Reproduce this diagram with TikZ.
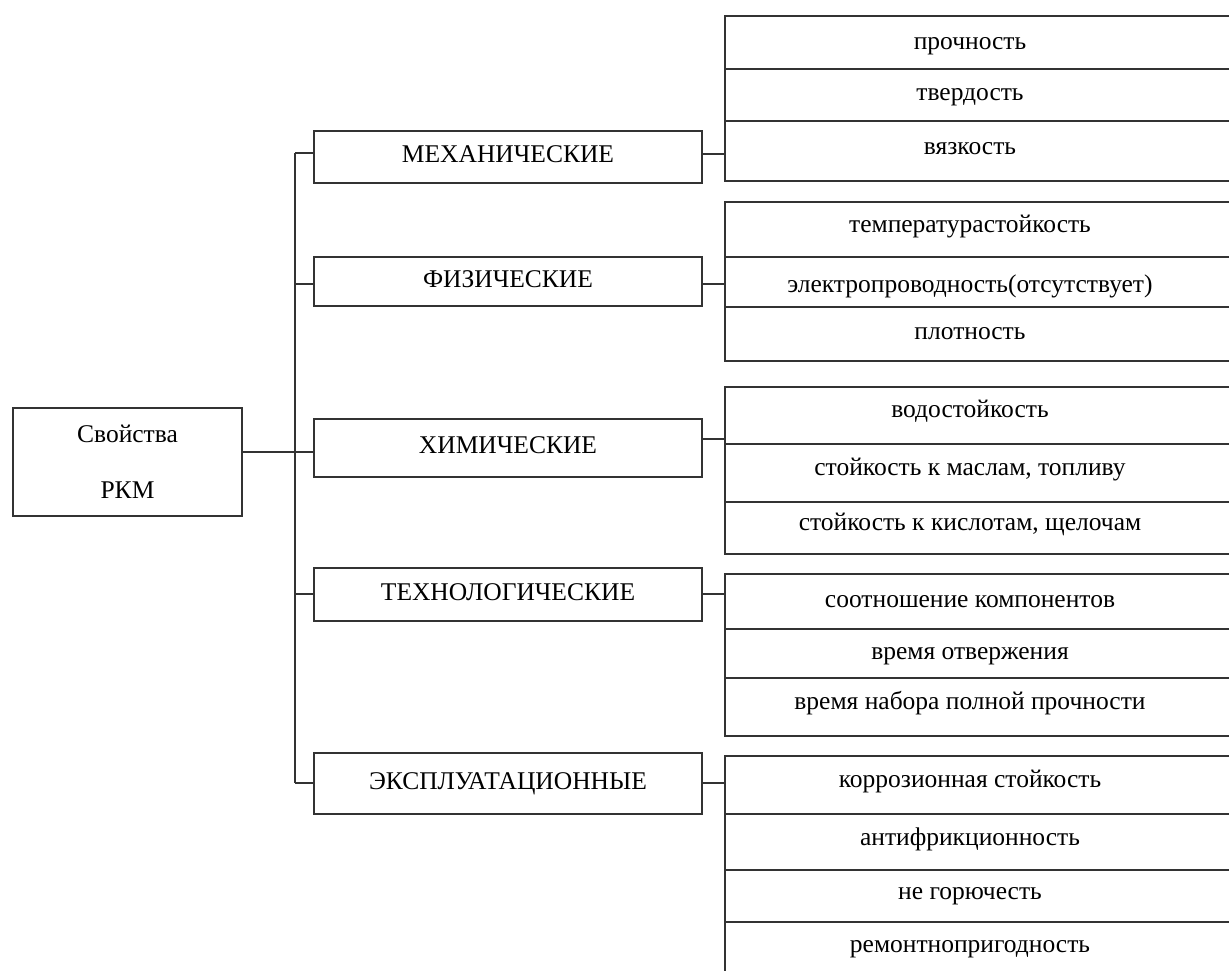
\documentclass[tikz,border=0pt]{standalone}
\usepackage{fontspec}
\setmainfont{Liberation Serif}
\usepackage{tikz}
\usetikzlibrary{positioning}

\tikzset{
    line/.style={draw=black!80, line width=1.4pt},
    rootbox/.style={line, minimum width=229pt, minimum height=108pt, inner sep=0pt, align=center},
    catbox/.style={line, minimum width=388pt, inner sep=0pt, text height=18pt, text depth=6.5pt},
    prop/.style={inner sep=0pt, text height=18pt, text depth=2.5pt}
}

\begin{document}
\begin{tikzpicture}[x=1pt,y=-1pt,font=\fontsize{25.5}{28}\selectfont]
    \useasboundingbox (0,0) rectangle (1229,971);
    \clip (0,0) rectangle (1229,971);

    % root
    \node[rootbox] (root) at (127.5,462) {Свойства\\[28pt]РКМ};

    % categories
    \node[catbox, minimum height=52pt] (mech) at (508,157) {МЕХАНИЧЕСКИЕ};
    \node[catbox, minimum height=49pt] (phys) at (508,281.5) {ФИЗИЧЕСКИЕ};
    \node[catbox, minimum height=58pt] (chem) at (508,448) {ХИМИЧЕСКИЕ};
    \node[catbox, minimum height=53pt] (tech) at (508,594.5) {ТЕХНОЛОГИЧЕСКИЕ};
    \node[catbox, minimum height=61pt] (oper) at (508,783.5) {ЭКСПЛУАТАЦИОННЫЕ};

    % trunk
    \coordinate (t1) at (295,153);
    \coordinate (t2) at (295,284);
    \coordinate (t3) at (295,452);
    \coordinate (t4) at (295,594);
    \coordinate (t5) at (295,783);
    \draw[line] (t1) -- (t5);
    \draw[line] (root.east |- t3) -- (t3);
    \draw[line] (t1) -- (t1 -| mech.west);
    \draw[line] (t2) -- (t2 -| phys.west);
    \draw[line] (t3) -- (t3 -| chem.west);
    \draw[line] (t4) -- (t4 -| tech.west);
    \draw[line] (t5) -- (t5 -| oper.west);

    % property groups
    \coordinate (g1) at (725,154);
    \coordinate (g2) at (725,284);
    \coordinate (g3) at (725,439);
    \coordinate (g4) at (725,594);
    \coordinate (g5) at (725,783);
    \foreach \a/\b in {16/69,69/121,121/181}
        \draw[line] (725,\a) rectangle (1245,\b);
    \foreach \a/\b in {202/257,257/307,307/361}
        \draw[line] (725,\a) rectangle (1245,\b);
    \foreach \a/\b in {387/444,444/502,502/554}
        \draw[line] (725,\a) rectangle (1245,\b);
    \foreach \a/\b in {574/629,629/678,678/736}
        \draw[line] (725,\a) rectangle (1245,\b);
    \foreach \a/\b in {756/814,814/870,870/922,922/1000}
        \draw[line] (725,\a) rectangle (1245,\b);

    \draw[line] (mech.east |- g1) -- (g1);
    \draw[line] (phys.east |- g2) -- (g2);
    \draw[line] (chem.east |- g3) -- (g3);
    \draw[line] (tech.east |- g4) -- (g4);
    \draw[line] (oper.east |- g5) -- (g5);

    \node[prop] (p11) at (970,42) {прочность};
    \node[prop] (p12) at (970,93) {твердость};
    \node[prop] (p13) at (970,147) {вязкость};

    \node[prop] (p21) at (970,225) {температурастойкость};
    \node[prop] (p22) at (970,285) {электропроводность(отсутствует)};
    \node[prop] (p23) at (970,332) {плотность};

    \node[prop] (p31) at (970,410) {водостойкость};
    \node[prop] (p32) at (970,468) {стойкость к маслам, топливу};
    \node[prop] (p33) at (970,523) {стойкость к кислотам, щелочам};

    \node[prop] (p41) at (970,600) {соотношение компонентов};
    \node[prop] (p42) at (970,652) {время отвержения};
    \node[prop] (p43) at (970,702) {время набора полной прочности};

    \node[prop] (p51) at (970,780) {коррозионная стойкость};
    \node[prop] (p52) at (970,838) {антифрикционность};
    \node[prop] (p53) at (970,892) {не горючесть};
    \node[prop] (p54) at (970,945) {ремонтнопригодность};
\end{tikzpicture}
\end{document}
